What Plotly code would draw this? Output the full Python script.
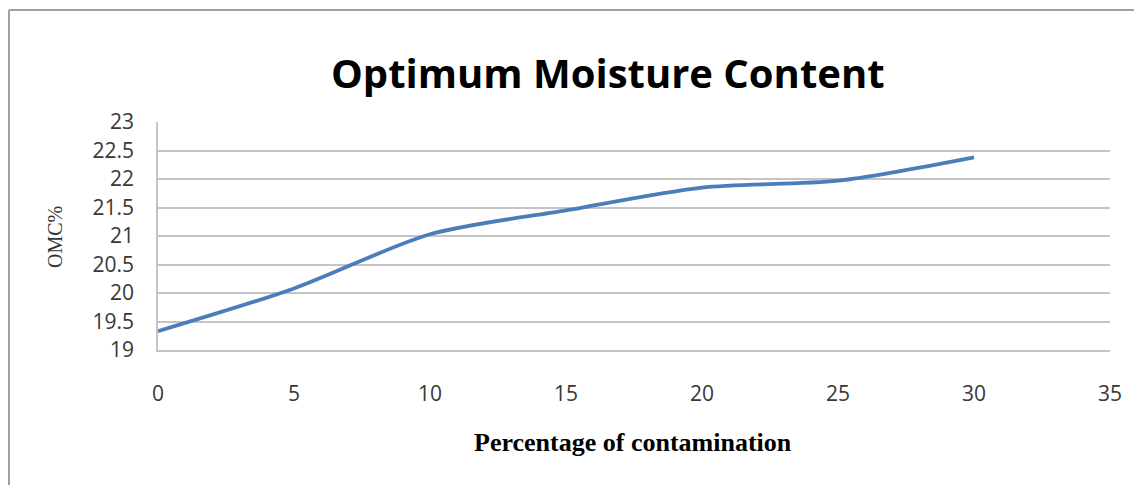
import plotly.graph_objects as go

# Data
contamination = [0, 5, 10, 15, 20, 25, 30]
omc = [19.33, 20.08, 21.03, 21.45, 21.85, 21.97, 22.38]
x_ticks = [0, 5, 10, 15, 20, 25, 30, 35]
y_ticks = [19, 19.5, 20, 20.5, 21, 21.5, 22, 22.5, 23]

# the page is drawn with an 8px body offset; work in reference pixels
OFF = 8
W, H = 1142, 485
L, R, T, B = 158 - OFF, 40, 122 - OFF, 135 + OFF
PW, PH = W - L - R, H - T - B


def px(x):
    return (x - OFF - L) / PW


def py(y):
    return (H - B - (y - OFF)) / PH


fig = go.Figure()
fig.add_trace(go.Scatter(
    x=contamination, y=omc, mode="lines",
    line=dict(color="#4a7ebb", width=3.8, shape="spline", smoothing=0.8),
    showlegend=False, hoverinfo="x+y",
))

grid = "#c4c4c4"
fig.update_layout(
    width=W, height=H,
    margin=dict(l=L, r=R, t=T, b=B),
    paper_bgcolor="white", plot_bgcolor="white",
    xaxis=dict(range=[0, 35], tickvals=x_ticks, showgrid=False,
               showline=True, linecolor=grid, linewidth=1.5,
               zeroline=False, ticks="", ticklabelstandoff=24,
               tickfont=dict(family="Open Sans", size=21, color="#383838")),
    yaxis=dict(range=[19, 23], tickvals=y_ticks, showgrid=True,
               gridcolor=grid, gridwidth=1.5, showline=True,
               linecolor=grid, linewidth=1.5, zeroline=False, ticks="",
               ticklabelstandoff=18, ticktext=[str(v) for v in y_ticks],
               tickfont=dict(family="Open Sans", size=21, color="#383838")),
    annotations=[
        dict(text="<b>Optimum Moisture Content</b>", x=px(608), y=py(72),
             xref="paper", yref="paper", showarrow=False,
             font=dict(family="Open Sans", size=40, color="black"),
             xanchor="center", yanchor="middle"),
        dict(text="<b>Percentage of contamination</b>", x=px(633), y=py(442),
             xref="paper", yref="paper", showarrow=False,
             font=dict(family="Liberation Serif", size=26, color="black"),
             xanchor="center", yanchor="middle"),
        dict(text="OMC%", x=px(55), y=py(237), textangle=-90,
             xref="paper", yref="paper", showarrow=False,
             font=dict(family="Liberation Serif", size=20, color="#333333"),
             xanchor="center", yanchor="middle"),
    ],
    shapes=[
        dict(type="line", xref="paper", yref="paper",
             x0=px(9), x1=px(9), y0=py(H + 20), y1=py(10),
             line=dict(color="#a0a0a0", width=2)),
        dict(type="line", xref="paper", yref="paper",
             x0=px(9), x1=px(W + 20), y0=py(10), y1=py(10),
             line=dict(color="#a0a0a0", width=2)),
    ],
)

fig.write_html("out.html")
